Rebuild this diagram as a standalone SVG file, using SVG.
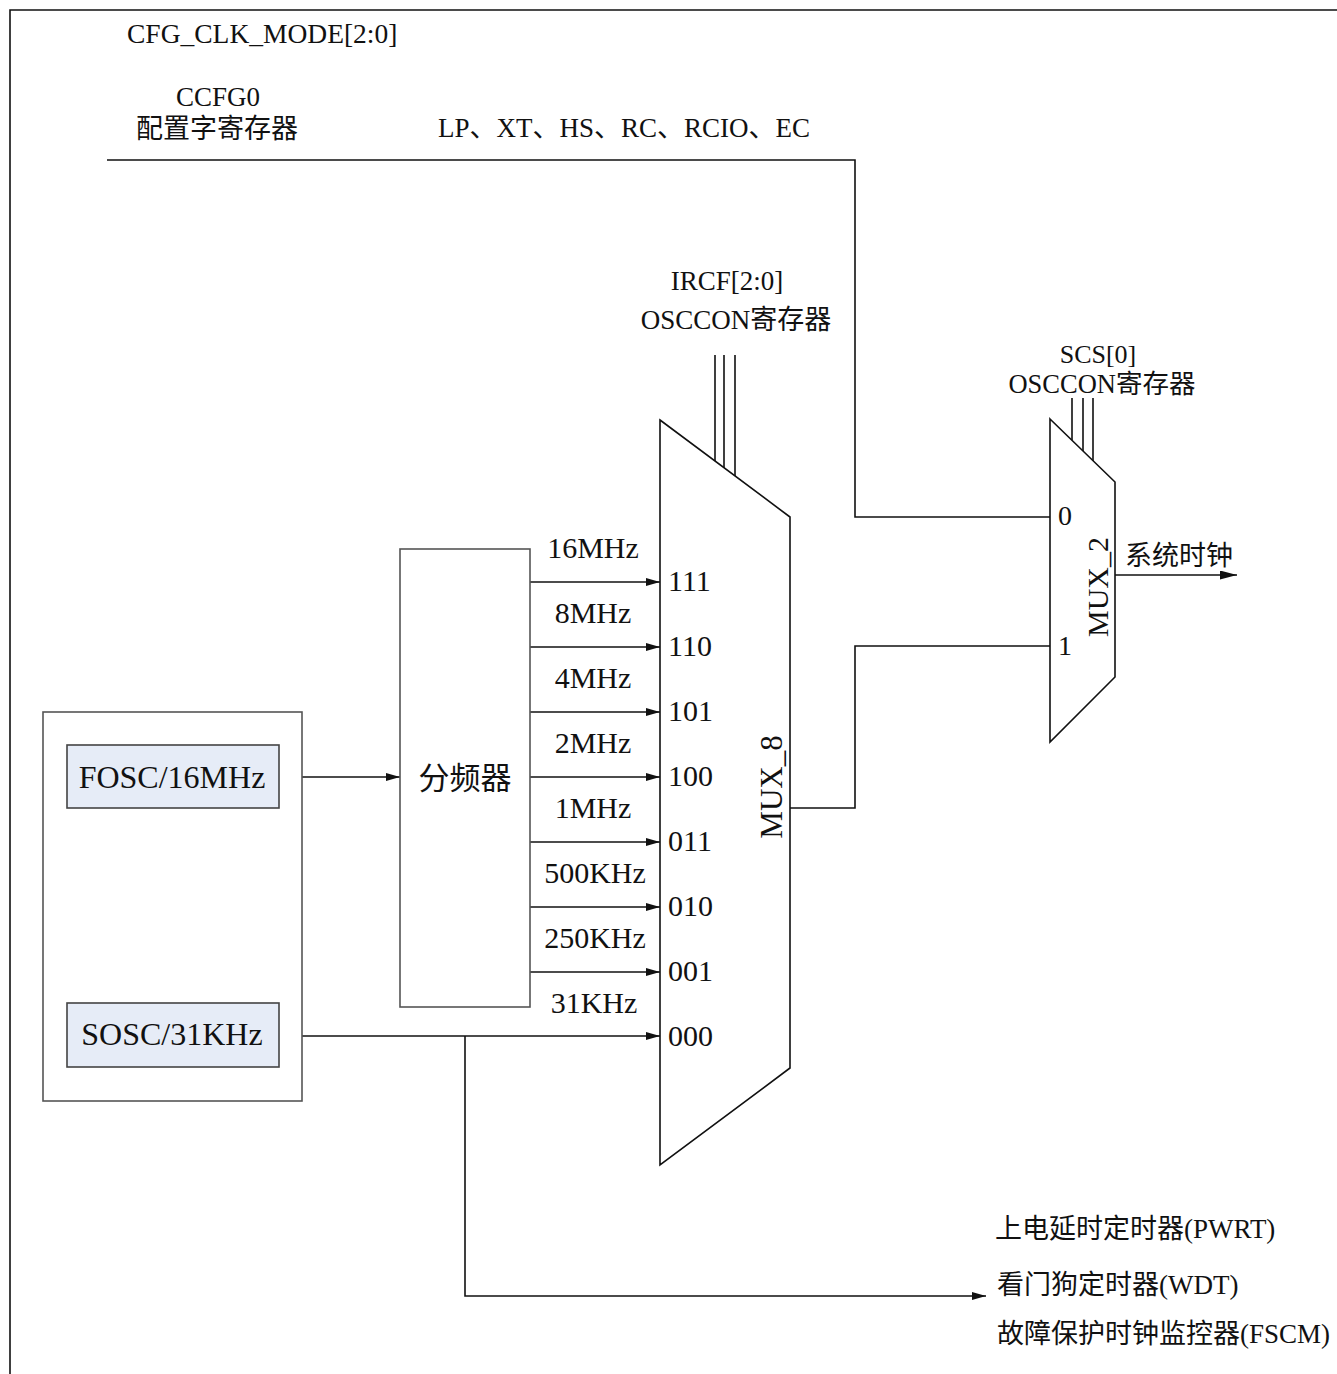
<svg xmlns="http://www.w3.org/2000/svg" width="1337" height="1374" viewBox="0 0 1337 1374">
<style>
text{font-family:"Liberation Serif","Noto Sans CJK SC",serif;fill:#111;}
.t27{font-size:27px;}
.t30{font-size:30px;}
.t32{font-size:32px;}
.ln{fill:none;stroke:#111;stroke-width:1.6;}
.bx{fill:#fff;stroke:#555;stroke-width:1.6;}
.src{fill:#e6ecf7;stroke:#444;stroke-width:1.6;}
.mux{fill:#fff;stroke:#111;stroke-width:1.6;}
</style>
<defs>
<marker id="ah" markerWidth="14" markerHeight="8" refX="14" refY="4" orient="auto" markerUnits="userSpaceOnUse">
<path d="M0,0 L14,4 L0,8 Z" fill="#111"/>
</marker>
<marker id="ahb" markerWidth="17" markerHeight="9" refX="17" refY="4.5" orient="auto" markerUnits="userSpaceOnUse">
<path d="M0,0 L17,4.5 L0,9 Z" fill="#111"/>
</marker>
</defs>
<rect width="1337" height="1374" fill="#fff"/>
<path d="M10,1374 V10 H1337" fill="none" stroke="#111" stroke-width="1.6"/>

<g id="labels-top">
<text class="t27" x="127" y="43" style="font-size:27.5px">CFG_CLK_MODE[2:0]</text>
<text class="t27" x="218" y="106" text-anchor="middle">CCFG0</text>
<text class="t27" x="217" y="138" text-anchor="middle">配置字寄存器</text>
<text class="t27" x="438" y="137">LP、XT、HS、RC、RCIO、EC</text>
</g>

<g id="connectors">
<path class="ln" d="M107,160 H855 V517 H1050" stroke-width="2"/>
<path class="ln" d="M790,808 H855 V646 H1050"/>
<path class="ln" d="M715,355 V461 M724,355 V468 M735,355 V476"/>
<path class="ln" d="M1072,398 V440 M1083,398 V451 M1093,398 V461"/>
<path class="ln" d="M279,777 H400" marker-end="url(#ah)"/>
<path class="ln" d="M279,1036 H660" marker-end="url(#ah)"/>
<path class="ln" d="M465,1036 V1296 H986" marker-end="url(#ah)"/>
<path class="ln" d="M530,582 H660" marker-end="url(#ah)"/>
<path class="ln" d="M530,647 H660" marker-end="url(#ah)"/>
<path class="ln" d="M530,712 H660" marker-end="url(#ah)"/>
<path class="ln" d="M530,777 H660" marker-end="url(#ah)"/>
<path class="ln" d="M530,842 H660" marker-end="url(#ah)"/>
<path class="ln" d="M530,907 H660" marker-end="url(#ah)"/>
<path class="ln" d="M530,972 H660" marker-end="url(#ah)"/>
<path class="ln" d="M1115,575 H1237" marker-end="url(#ahb)"/>
</g>

<g id="osc-group">
<rect class="bx" x="43" y="712" width="259" height="389"/>
</g>
<g id="fosc">
<rect class="src" x="67" y="745" width="212" height="63"/>
<text class="t32" x="172" y="788" text-anchor="middle">FOSC/16MHz</text>
</g>
<g id="sosc">
<rect class="src" x="67" y="1003" width="212" height="64"/>
<text class="t32" x="172" y="1045" text-anchor="middle">SOSC/31KHz</text>
</g>

<g id="divider">
<rect class="bx" x="400" y="549" width="130" height="458"/>
<text class="t30" x="465" y="789" text-anchor="middle" style="font-size:31px">分频器</text>
</g>

<g id="freq-labels">
<text class="t30" x="593" y="558" text-anchor="middle">16MHz</text>
<text class="t30" x="593" y="623" text-anchor="middle">8MHz</text>
<text class="t30" x="593" y="688" text-anchor="middle">4MHz</text>
<text class="t30" x="593" y="753" text-anchor="middle">2MHz</text>
<text class="t30" x="593" y="818" text-anchor="middle">1MHz</text>
<text class="t30" x="595" y="883" text-anchor="middle">500KHz</text>
<text class="t30" x="595" y="948" text-anchor="middle">250KHz</text>
<text class="t30" x="594" y="1013" text-anchor="middle">31KHz</text>
</g>

<g id="mux8">
<path class="mux" d="M660,420 L790,517 V1068 L660,1165 Z"/>
<text class="t30" x="668" y="591">111</text>
<text class="t30" x="668" y="656">110</text>
<text class="t30" x="668" y="721">101</text>
<text class="t30" x="668" y="786">100</text>
<text class="t30" x="668" y="851">011</text>
<text class="t30" x="668" y="916">010</text>
<text class="t30" x="668" y="981">001</text>
<text class="t30" x="668" y="1046">000</text>
<text class="t30" transform="translate(782,787) rotate(-90)" text-anchor="middle" style="font-size:31px">MUX_8</text>
</g>

<g id="ircf-label">
<text class="t27" x="727" y="290" text-anchor="middle">IRCF[2:0]</text>
<text class="t27" x="736" y="329" text-anchor="middle">OSCCON寄存器</text>
</g>

<g id="mux2">
<path class="mux" d="M1050,419 L1115,482 V677 L1050,742 Z"/>
<text class="t27" x="1058" y="525" style="font-size:28px">0</text>
<text class="t27" x="1058" y="655" style="font-size:28px">1</text>
<text class="t30" transform="translate(1108,587) rotate(-90)" text-anchor="middle">MUX_2</text>
</g>

<g id="scs-label">
<text class="t27" x="1098" y="363" text-anchor="middle" style="font-size:26px">SCS[0]</text>
<text class="t27" x="1102" y="393" text-anchor="middle" style="font-size:26.5px">OSCCON寄存器</text>
</g>

<g id="sysclk">
<text class="t27" x="1125" y="565">系统时钟</text>
</g>

<g id="outputs">
<text class="t27" x="995" y="1238">上电延时定时器(PWRT)</text>
<text class="t27" x="997" y="1294">看门狗定时器(WDT)</text>
<text class="t27" x="997" y="1343">故障保护时钟监控器(FSCM)</text>
</g>
</svg>
